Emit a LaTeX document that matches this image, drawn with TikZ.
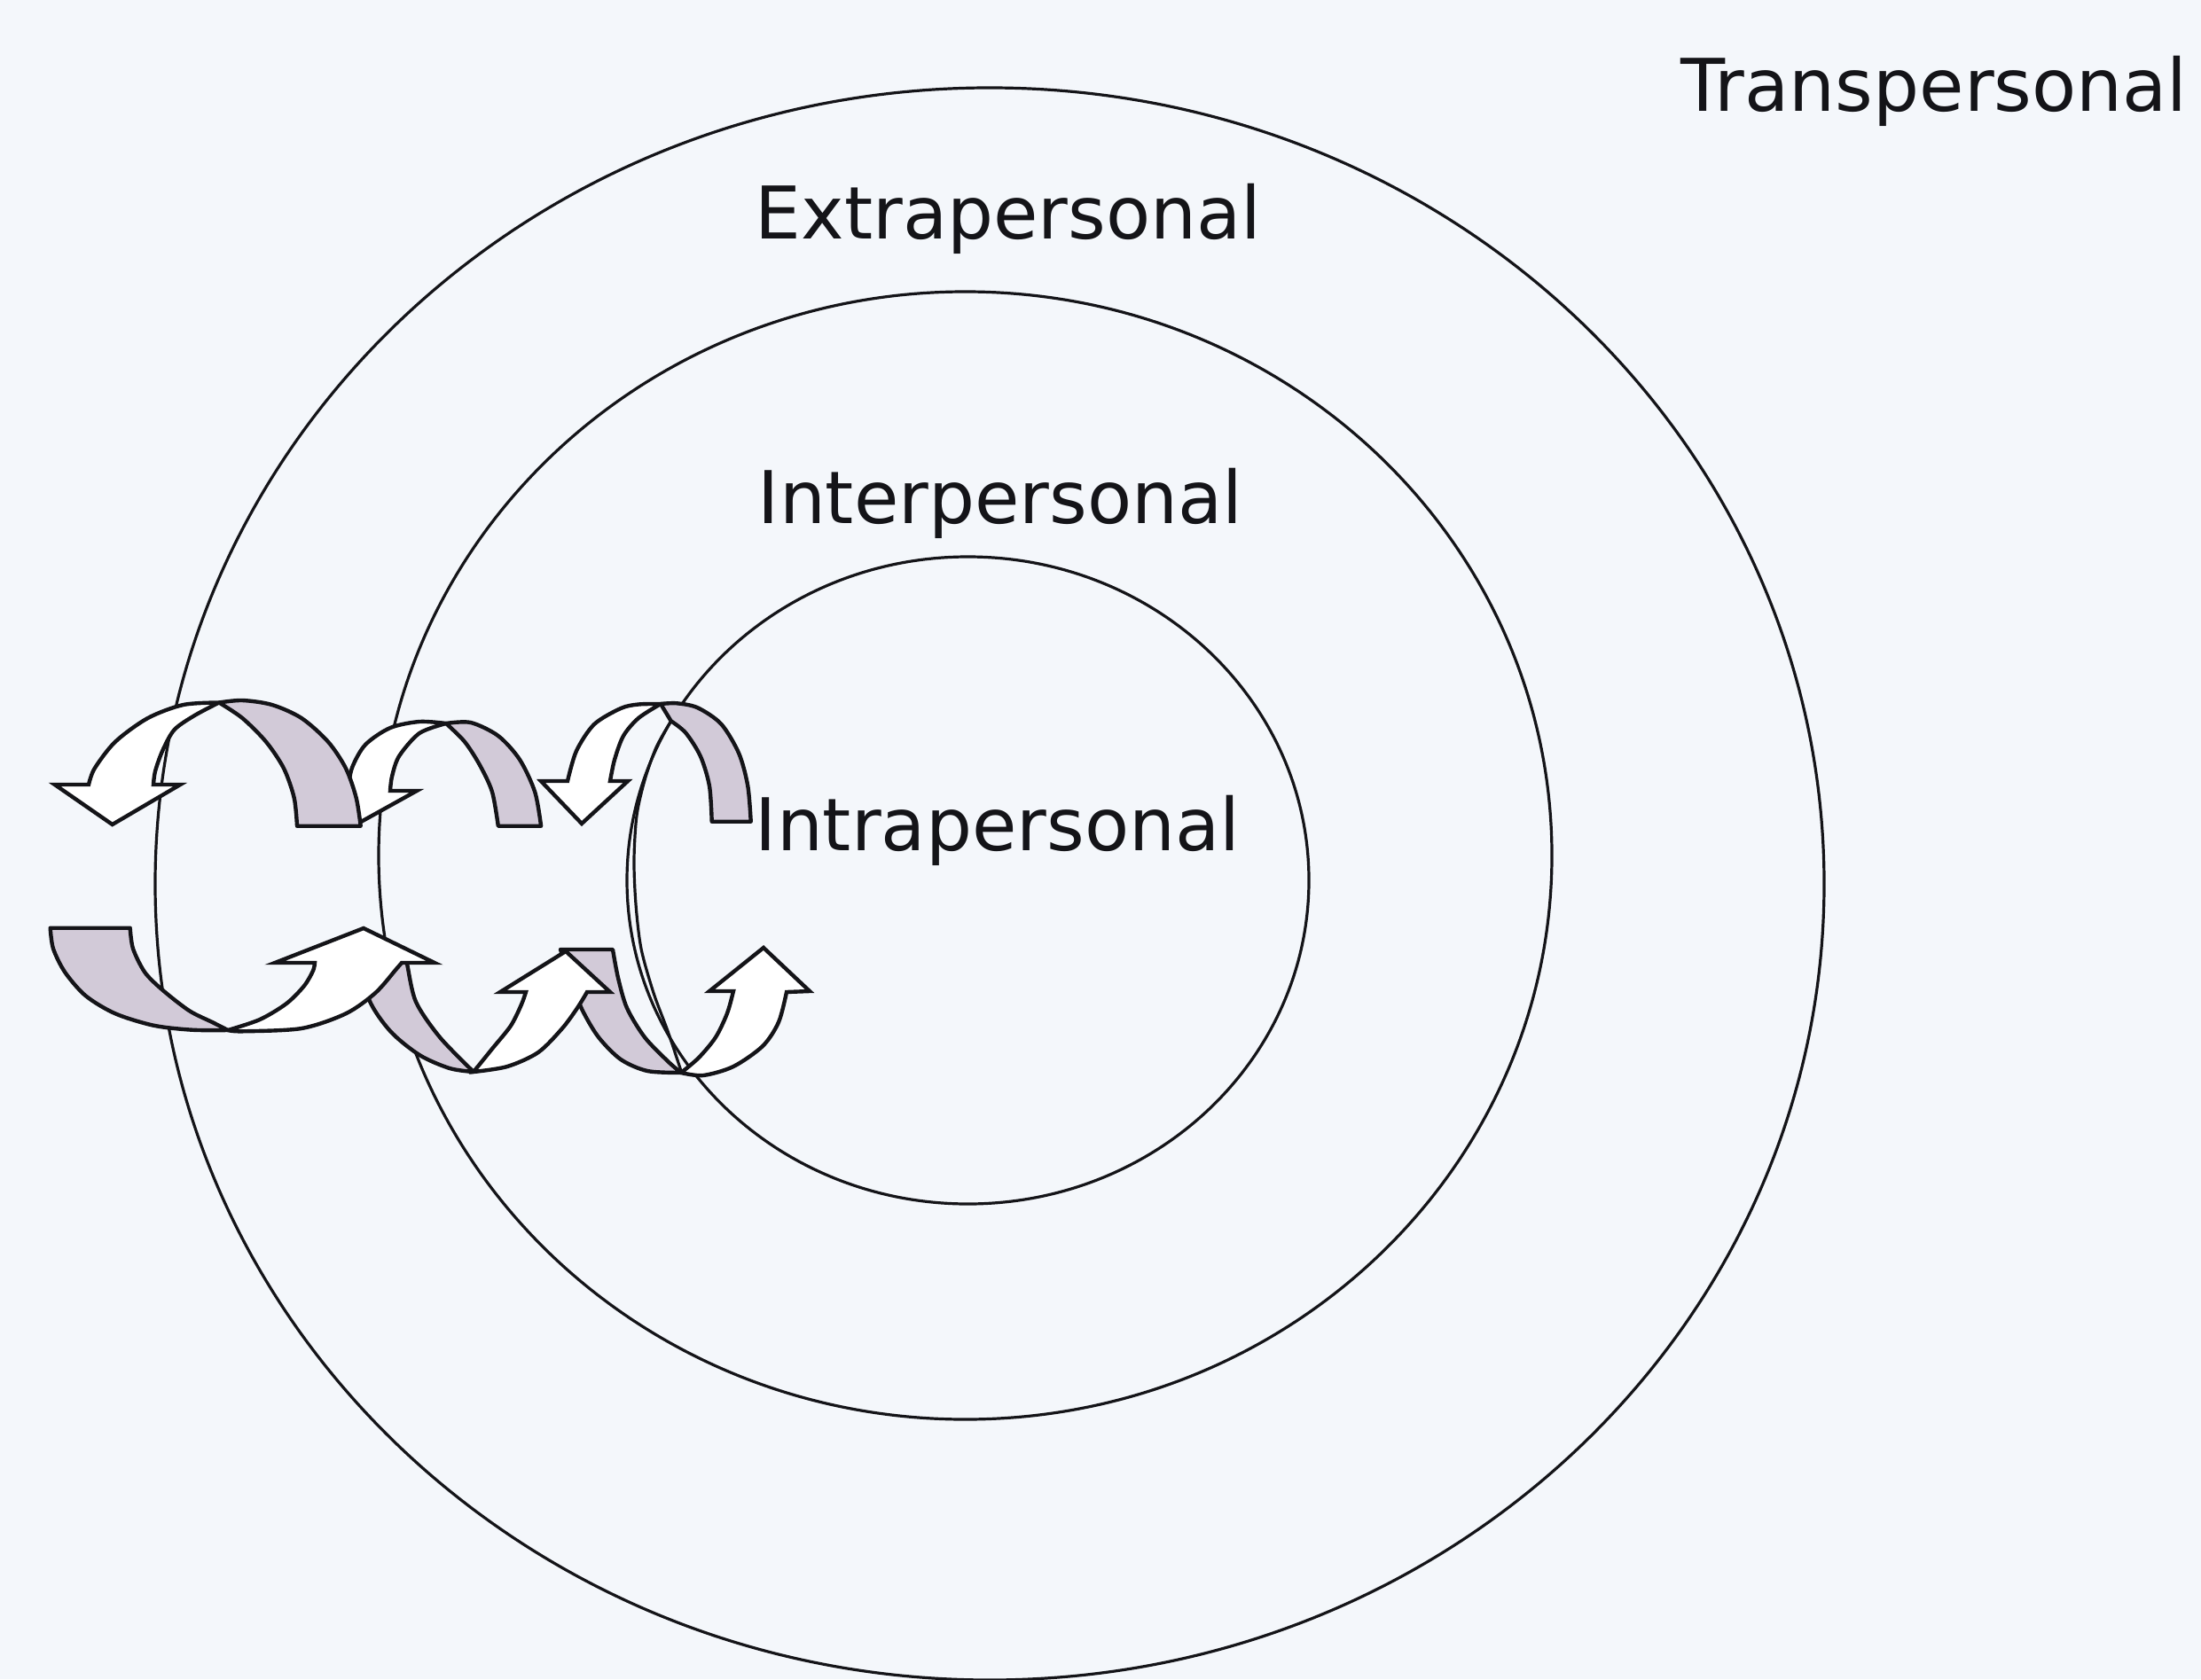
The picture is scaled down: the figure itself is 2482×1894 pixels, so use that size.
\documentclass[tikz,border=0pt]{standalone}
\usepackage{fontspec}
\setmainfont{DejaVu Sans}
\definecolor{paper}{RGB}{244,247,251}
\definecolor{ribbon}{RGB}{210,202,216}
\definecolor{ink}{RGB}{20,20,24}
\begin{document}
\begin{tikzpicture}[x=0.25pt,y=-0.25pt,
  ring/.style={draw=ink, line width=0.8pt},
  back/.style={fill=ribbon, draw=ink, line width=1.1pt, line join=round},
  front/.style={fill=white, draw=ink, line width=1.1pt, line join=miter},
  lbl/.style={anchor=base west, inner sep=0pt, font=\fontsize{20.5}{24}\selectfont, text=ink}]
\fill[paper] (0,0) rectangle (2482,1894);
\useasboundingbox (0,0) rectangle (2482,1894);

% the three nested spheres
\draw[ring] (1116,997) ellipse [x radius=941, y radius=898];
\draw[ring] (1088.5,965) ellipse [x radius=661.5, y radius=636];
\draw[ring] (1091.5,993) ellipse [x radius=384.5, y radius=365];
% inner rim of the innermost loop
\draw[ring] plot[smooth] coordinates {(756.7,813.3) (740,843) (727,880) (718,920) (715,970) (717,1020) (723,1070) (737,1120) (753,1163) (768,1208)};

% labels
\node[lbl] (trans) at (1895,126) {Transpersonal};
\node[lbl] (extra) at (851,269) {Extrapersonal};
\node[lbl] (inter) at (854,590) {Interpersonal};
\node[lbl] (intra) at (851,959) {Intrapersonal};

% ---- loop across the intrapersonal boundary ----
\filldraw[back] plot[smooth] coordinates {(802.7,926.7) (800,886.7) (790,853.3) (773.3,826.7) (756.7,813.3)} -- (745,794)
  -- plot[smooth] coordinates {(745,794) (763.3,793.3) (786.7,798.3) (813.3,816.7) (833.3,850) (843.3,886.7) (846.7,926.7)} -- cycle;
\filldraw[front] plot[smooth] coordinates {(745,794) (720,794.5) (700,799) (670,817) (650,847) (640,881)}
  -- (610,881) -- (656,929) -- (708,881) -- (688,881)
  -- plot[smooth] coordinates {(688,881) (693,857) (703,830) (720,810) (745,794)} -- cycle;
\filldraw[back] plot[smooth] coordinates {(632,1071) (645,1110) (657,1140) (675,1170) (700,1195) (730,1208) (768,1210)}
  -- plot[smooth] coordinates {(768,1210) (753,1197) (727,1170) (707,1137) (697,1103) (691,1071)} -- cycle;
\filldraw[front] plot[smooth] coordinates {(768,1210) (793,1213) (827,1203) (860,1180) (878,1153) (887,1119)}
  -- (913,1118) -- (861,1069) -- (800,1118) -- (827,1118)
  -- plot[smooth] coordinates {(827,1118) (820,1143) (807,1170) (788,1193) (768,1210)} -- cycle;

% ---- loop across the interpersonal boundary ----
\filldraw[back] plot[smooth] coordinates {(561.8,931.7) (555,893.3) (541.2,863.3) (524,836.7) (503,816)}
  -- plot[smooth] coordinates {(503,816) (530.8,815) (561.8,830) (586,856.7) (603.2,893.3) (610.1,931.7)} -- cycle;
\filldraw[front] plot[smooth] coordinates {(503,816) (473,814) (440,821) (412,840) (397,866) (392,892)}
  -- (358,892) -- (407,927) -- (470,892) -- (440,892)
  -- plot[smooth] coordinates {(440,892) (442,876) (450,853) (473,827) (503,816)} -- cycle;
\filldraw[back] plot[smooth] coordinates {(408,1080) (416,1127) (440,1163) (473,1190) (507,1205) (534,1209)}
  -- plot[smooth] coordinates {(534,1209) (496,1170) (469,1130) (459,1087) (457,1080)} -- cycle;
\filldraw[front] plot[smooth] coordinates {(534,1209) (572,1203) (607,1187) (634,1160) (651,1137) (662,1119)}
  -- (688,1119) -- (638,1073) -- (564,1119) -- (593,1119)
  -- plot[smooth] coordinates {(593,1119) (588,1133) (576,1157) (555,1183) (534,1209)} -- cycle;

% ---- loop across the extrapersonal boundary ----
\filldraw[back] plot[smooth] coordinates {(335,931.7) (331.7,900) (320,866.7) (300,836.7) (273.3,810) (247,792.5)}
  -- plot[smooth] coordinates {(247,792.5) (273.3,790) (306.7,795) (340,810) (370,836.7) (390,866.7) (401.7,900) (406.7,931.7)} -- cycle;
\filldraw[front] plot[smooth] coordinates {(247,792.5) (206.7,795) (166.7,810) (130,836.7) (106.7,866.7) (100,885)}
  -- (61.7,885) -- (126.7,930) -- (203.3,885) -- (173,885)
  -- plot[smooth] coordinates {(173,885) (175,870) (183.3,846.7) (196.7,823) (220,806.7) (247,792.5)} -- cycle;
\filldraw[back] plot[smooth] coordinates {(56.7,1046.7) (60,1070) (73.3,1096.7) (96.7,1123.3) (130,1143.3) (173.3,1156.7) (216.7,1161.7) (257,1162)}
  -- plot[smooth] coordinates {(257,1162) (240,1153.3) (213.3,1140) (183.3,1116.7) (163.3,1096.7) (150,1070) (146.7,1046.7)} -- cycle;
\filldraw[front] plot[smooth] coordinates {(257,1162) (273.3,1163.3) (340,1160) (390,1143.3) (423.3,1120) (446.7,1093.3) (453,1086)}
  -- (490,1086) -- (410,1047) -- (310,1086) -- (355,1086)
  -- plot[smooth] coordinates {(355,1086) (353,1095) (343,1112) (323,1132) (293,1150) (257,1162)} -- cycle;
\end{tikzpicture}
\end{document}
